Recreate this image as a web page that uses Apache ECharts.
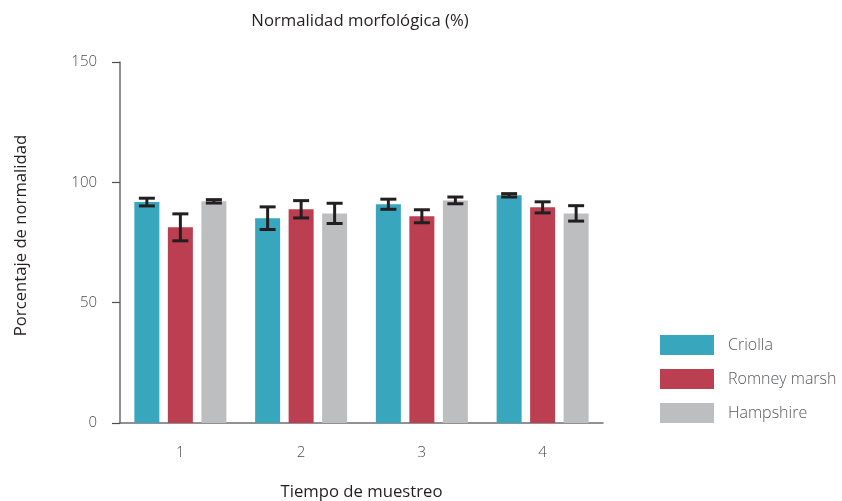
<!DOCTYPE html>
<html><head><meta charset="utf-8">
<script src="https://cdn.jsdelivr.net/npm/echarts@6/dist/echarts.min.js"></script>
<style>html,body{margin:0;padding:0;background:#fff}#c{width:842px;height:501px}</style>
</head><body><div id="c"></div>
<script>
const categories = ['1', '2', '3', '4'];
const seriesNames = ['Criolla', 'Romney marsh', 'Hampshire'];
const criolla = [91.8, 85.1, 90.9, 94.6];
const criollaErr = [1.6, 4.7, 2.1, 0.7];
const romney = [81.3, 88.8, 85.9, 89.6];
const romneyErr = [5.6, 3.6, 2.7, 2.3];
const hampshire = [92.1, 87.1, 92.5, 87.1];
const hampshireErr = [0.7, 4.2, 1.4, 3.2];
const yTicks = [0, 50, 100, 150];

const colors = ['#38a6bd', '#bb3f50', '#bdbec0'];
const means = [criolla, romney, hampshire];
const errs = [criollaErr, romneyErr, hampshireErr];
const FONT = 'Open Sans';
const offsets = [-33.5, 0, 33.5];

const chart = echarts.init(document.getElementById('c'));
const series = [];
means.forEach((m, i) => {
  series.push({
    name: seriesNames[i], type: 'bar', data: m, barWidth: 25, barGap: '34%',
    itemStyle: { color: colors[i] }, z: 2
  });
});
means.forEach((m, i) => {
  series.push({
    type: 'custom', name: 'err' + i, silent: true, z: 5,
    data: m.map((v, k) => [k, v - errs[i][k], v + errs[i][k]]),
    renderItem: function (params, api) {
      const lo = api.coord([api.value(0), api.value(1)]);
      const hi = api.coord([api.value(0), api.value(2)]);
      const x = lo[0] + offsets[i];
      const hw = 8;
      const st = { stroke: '#231f20', lineWidth: 3 };
      return { type: 'group', children: [
        { type: 'line', shape: { x1: x, y1: hi[1], x2: x, y2: lo[1] }, style: st },
        { type: 'line', shape: { x1: x - hw, y1: hi[1], x2: x + hw, y2: hi[1] }, style: st },
        { type: 'line', shape: { x1: x - hw, y1: lo[1], x2: x + hw, y2: lo[1] }, style: st }
      ]};
    }
  });
});

chart.setOption({
  animation: false,
  textStyle: { fontFamily: FONT },
  title: {
    text: 'Normalidad morfológica (%)', left: 355, textAlign: 'center', top: 8,
    textStyle: { fontFamily: FONT, fontSize: 16.7, fontWeight: 'normal', color: '#231f20' }
  },
  legend: {
    orient: 'vertical', left: 655, top: 330, itemWidth: 54, itemHeight: 20, itemGap: 14,
    icon: 'rect', data: seriesNames,
    textStyle: { fontFamily: FONT, fontSize: 16, fontWeight: 300, color: '#58595b', padding: [0, 0, 0, 9] }
  },
  grid: { left: 120, right: 239, top: 62, bottom: 78, containLabel: false, outerBoundsMode: 'none' },
  xAxis: {
    type: 'category', data: categories,
    name: 'Tiempo de muestreo', nameLocation: 'middle', nameGap: 61,
    nameTextStyle: { fontFamily: FONT, fontSize: 16.7, color: '#231f20' },
    axisLine: { lineStyle: { color: '#6d6e71', width: 1.5 } },
    axisTick: { alignWithLabel: true, length: 9, lineStyle: { color: '#4d4d4f', width: 1.2 } },
    axisLabel: { fontFamily: FONT, fontSize: 15, fontWeight: 300, color: '#4d4d4f', margin: 22 }
  },
  yAxis: {
    type: 'value', min: 0, max: 150, interval: 50,
    name: 'Porcentaje de normalidad', nameLocation: 'middle', nameGap: 90, nameRotate: 90,
    nameTextStyle: { fontFamily: FONT, fontSize: 16.7, color: '#231f20', padding: [0, 0, 0, 14] },
    axisLine: { show: true, lineStyle: { color: '#6d6e71', width: 1.5 } },
    axisTick: { show: true, length: 8, lineStyle: { color: '#4d4d4f', width: 1.2 } },
    splitLine: { show: false },
    axisLabel: { fontFamily: FONT, fontSize: 15, fontWeight: 300, color: '#4d4d4f', margin: 23,
      formatter: v => yTicks.includes(v) ? String(v) : '' }
  },
  series: series
});
</script></body></html>
